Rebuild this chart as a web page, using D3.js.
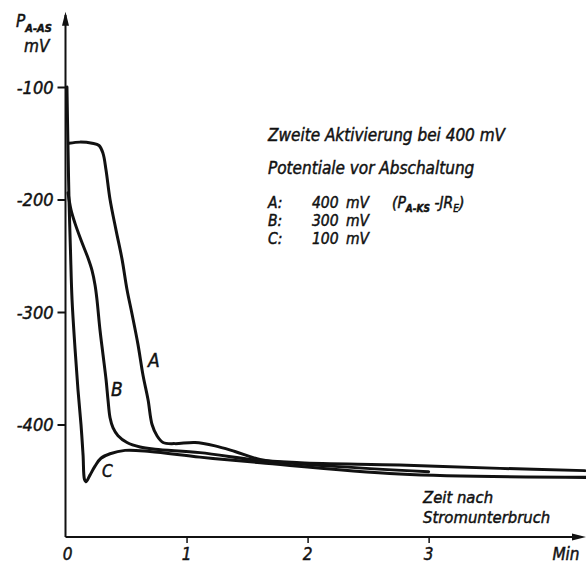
<!DOCTYPE html>
<html>
<head>
<meta charset="utf-8">
<script src="https://cdn.jsdelivr.net/npm/d3@7"></script>
<style>
  body { margin: 0; background: #fff; }
  svg text { font-family: "DejaVu Sans Condensed", "Liberation Sans", sans-serif; font-style: italic; fill: #111; stroke: #111; stroke-width: 0.45px; }
</style>
</head>
<body>
<svg id="chart" width="586" height="564"></svg>
<script>
// Kurven: Zeit (Min) / Potential (mV)
const curveA = [
    [0.029, -150], [0.12, -149], [0.22, -150], [0.277, -152], [0.31, -159], [0.335, -174],
    [0.368, -200], [0.417, -227], [0.467, -253], [0.508, -280], [0.55, -302], [0.599, -329],
    [0.64, -356], [0.682, -378], [0.715, -400], [0.756, -410], [0.806, -416], [0.905, -417],
    [1.07, -416], [1.236, -419], [1.4, -424], [1.607, -431], [1.94, -434], [2.76, -436],
    [3.59, -439], [4.29, -441]
];
const curveB = [
    [0.021, -194], [0.045, -209], [0.078, -221], [0.128, -236], [0.186, -252], [0.219, -263],
    [0.244, -276], [0.26, -289], [0.285, -316], [0.31, -338], [0.335, -360], [0.351, -378],
    [0.368, -394], [0.393, -403], [0.434, -410], [0.508, -416], [0.616, -420], [0.74, -422],
    [1.11, -425], [1.61, -432], [2.19, -437], [3.0, -442]
];
const curveC = [
    [0.012, -100], [0.021, -156], [0.029, -200], [0.041, -245], [0.054, -289], [0.079, -333],
    [0.103, -369], [0.128, -400], [0.145, -427], [0.157, -449], [0.169, -451], [0.202, -445],
    [0.244, -437], [0.293, -430], [0.368, -426], [0.492, -423], [0.698, -424], [1.11, -429],
    [1.61, -434], [2.76, -444], [4.3, -447]
];
const yTicks = [-100, -200, -300, -400];
const xTicks = [1, 2, 3];
const xTickLabels = ["0", "1", "2", "3"];
const legendRows = [["A:", "400", "mV"], ["B:", "300", "mV"], ["C:", "100", "mV"]];

const svg = d3.select("#chart");

const x = d3.scaleLinear().domain([0, 4.3]).range([65.5, 586]);
const y = d3.scaleLinear().domain([-500, -100]).range([537, 87]);

// Achsen mit Pfeilen
svg.append("line")
    .attr("x1", x(0)).attr("y1", y(-500))
    .attr("x2", x(0)).attr("y2", y(-36))
    .attr("stroke", "#111").attr("stroke-width", 2);
svg.append("path")
    .attr("d", `M${x(0)},${y(-33)} l-3.5,14 l7,0 z`)
    .attr("fill", "#111");

svg.append("line")
    .attr("x1", x(0)).attr("y1", y(-500))
    .attr("x2", x(4.25)).attr("y2", y(-500))
    .attr("stroke", "#111").attr("stroke-width", 2);
svg.append("path")
    .attr("d", `M${x(4.3)},${y(-500)} l-14,-3.5 l0,7 z`)
    .attr("fill", "#111");

const yAxis = svg.append("g")
    .attr("transform", `translate(${x(0)},0)`)
    .call(d3.axisLeft(y).tickValues(yTicks).tickSize(8).tickPadding(4).tickFormat(d => "-" + Math.abs(d)));
yAxis.select(".domain").remove();
yAxis.selectAll(".tick line").attr("stroke", "#111").attr("stroke-width", 2);
yAxis.selectAll(".tick text")
    .attr("font-size", 18).attr("dy", "0.35em")
    .style("font-family", null).attr("fill", "#111");

const xAxis = svg.append("g")
    .attr("transform", `translate(0,${y(-500)})`)
    .call(d3.axisBottom(x).tickValues(xTicks).tickSize(6).tickFormat(""));
xAxis.select(".domain").remove();
xAxis.selectAll(".tick line").attr("stroke", "#111").attr("stroke-width", 1.5);

svg.selectAll(".xlab")
    .data(xTickLabels)
    .enter().append("text")
    .attr("class", "xlab")
    .attr("x", (d, i) => x(i) + (i === 0 ? 2 : 0))
    .attr("y", 560)
    .attr("text-anchor", "middle")
    .attr("font-size", 17)
    .text(d => d);
svg.append("text")
    .attr("x", 566).attr("y", 560)
    .attr("text-anchor", "middle")
    .attr("font-size", 17)
    .text("Min");

// Y-Beschriftung
const ylab = svg.append("text").attr("x", 16).attr("y", 27).attr("font-size", 17);
ylab.append("tspan").text("P");
ylab.append("tspan").attr("dy", 5).attr("font-size", 11).attr("font-weight", "bold").text("A-AS");
svg.append("text").attr("x", 24).attr("y", 52).attr("font-size", 17).text("mV");

// Kurven
const line = d3.line()
    .x(d => x(d[0]))
    .y(d => y(d[1]))
    .curve(d3.curveCatmullRom.alpha(0.5));

[curveA, curveB, curveC].forEach(c => {
    svg.append("path")
        .datum(c)
        .attr("d", line)
        .attr("fill", "none")
        .attr("stroke", "#111")
        .attr("stroke-width", 3)
        .attr("stroke-linejoin", "round")
        .attr("stroke-linecap", "round");
});

// Kurvennamen
svg.append("text").attr("x", 148).attr("y", 367).attr("font-size", 19).text("A");
svg.append("text").attr("x", 111).attr("y", 396).attr("font-size", 19).text("B");
svg.append("text").attr("x", 102).attr("y", 477).attr("font-size", 17).text("C");

// Legende
const lx = 268;
svg.append("text").attr("x", lx).attr("y", 141).attr("font-size", 17).text("Zweite Aktivierung bei 400 mV");
svg.append("text").attr("x", lx).attr("y", 174).attr("font-size", 17).text("Potentiale vor Abschaltung");

legendRows.forEach((r, i) => {
    const yy = 208 + i * 18;
    svg.append("text").attr("x", lx).attr("y", yy).attr("font-size", 15.5).text(r[0]);
    svg.append("text").attr("x", lx + 44).attr("y", yy).attr("font-size", 15.5).text(r[1]);
    svg.append("text").attr("x", lx + 78).attr("y", yy).attr("font-size", 15.5).text(r[2]);
});
const formel = svg.append("text").attr("x", lx + 124).attr("y", 208).attr("font-size", 15.5);
formel.append("tspan").text("(P");
formel.append("tspan").attr("dy", 4).attr("font-size", 10).attr("font-weight", "bold").text("A-KS");
formel.append("tspan").attr("dy", -4).text(" -JR");
formel.append("tspan").attr("dy", 4).attr("font-size", 10).text("E");
formel.append("tspan").attr("dy", -4).text(")");

// Zeitachse
svg.append("text").attr("x", 423).attr("y", 503).attr("font-size", 16.5).text("Zeit nach");
svg.append("text").attr("x", 423).attr("y", 523).attr("font-size", 16.5).text("Stromunterbruch");
</script>
</body>
</html>
